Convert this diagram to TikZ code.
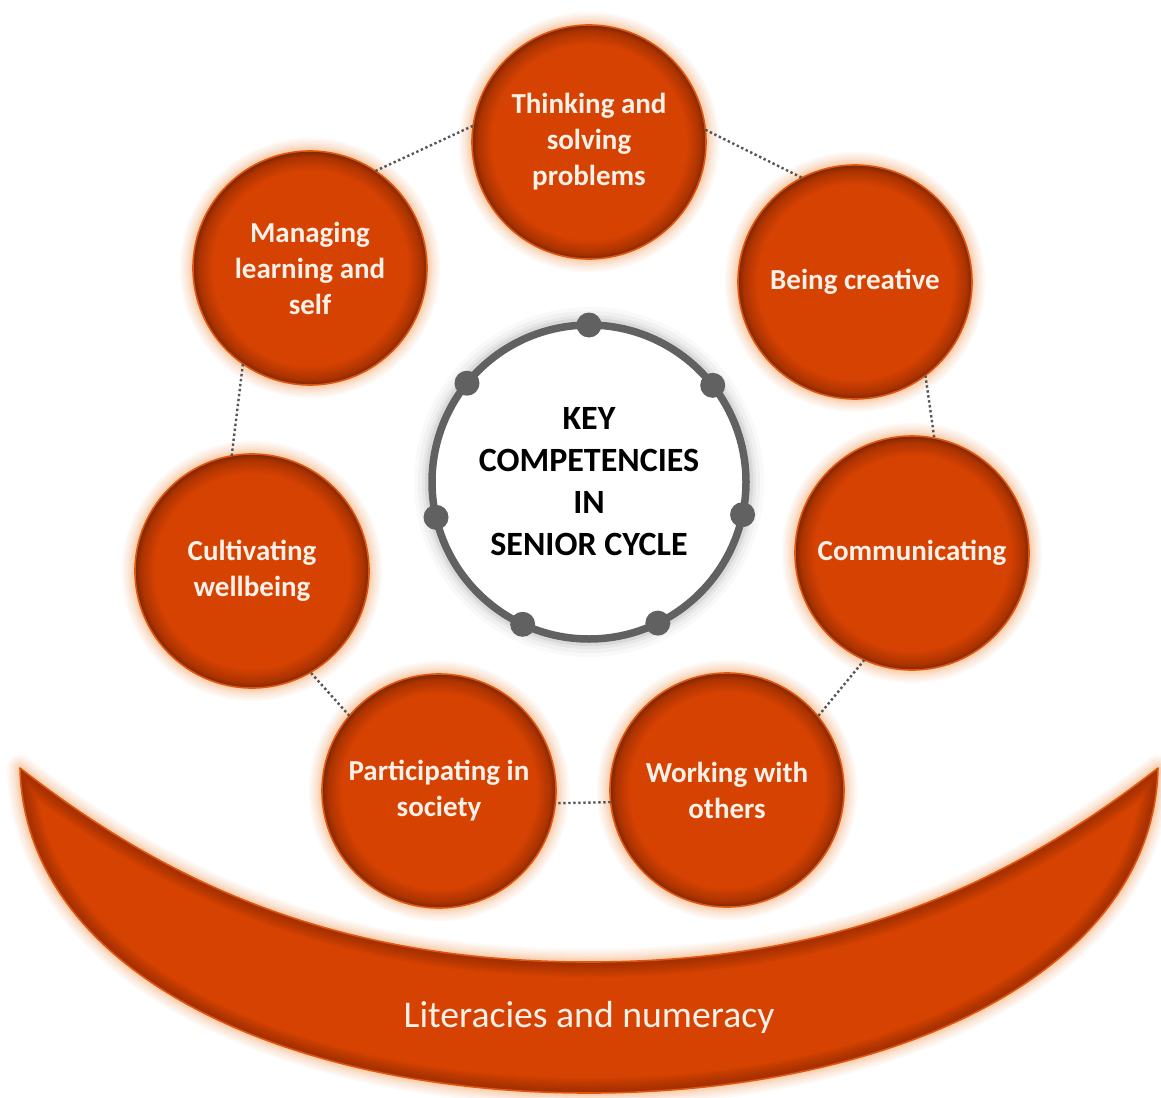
\documentclass[tikz,border=0pt]{standalone}
\usepackage{fontspec}
\setmainfont{Carlito}
\definecolor{corg}{HTML}{D64202}
\definecolor{corgb}{HTML}{AC3300}
\definecolor{cdark}{HTML}{6E2000}
\definecolor{cdark2}{HTML}{7E2600}
\definecolor{cedge}{HTML}{E0560E}
\definecolor{cglow}{HTML}{F7984F}
\definecolor{cring}{HTML}{616161}
\definecolor{cdot}{HTML}{555555}
\definecolor{ctext}{HTML}{FCF1E8}
\pgfdeclareradialshading{innershade}{\pgfpoint{0bp}{0bp}}{color(0bp)=(corg); color(20.8bp)=(corg); color(23.8bp)=(corgb); color(25bp)=(cdark2); color(50bp)=(cdark2)}
\tikzset{
  glowing/.style={
    preaction={draw=cglow,line width=26pt,draw opacity=.06},
    preaction={draw=cglow,line width=22pt,draw opacity=.06},
    preaction={draw=cglow,line width=18pt,draw opacity=.07},
    preaction={draw=cglow,line width=14pt,draw opacity=.08},
    preaction={draw=cglow,line width=10pt,draw opacity=.10},
    preaction={draw=cglow,line width=6pt,draw opacity=.14}},
  comp/.style={circle, minimum size=234pt, inner sep=0pt, outer sep=0pt,
    shading=innershade, draw=cedge, line width=1.6pt, glowing, text=ctext,
    font=\bfseries\fontsize{29}{36}\selectfont, align=center},
  core/.style={circle, minimum size=314pt, inner sep=0pt, outer sep=0pt,
    fill=white, draw=cring, line width=7.5pt, align=center,
    font=\bfseries\fontsize{34}{42}\selectfont, text=black,
    preaction={draw=black,line width=36pt,draw opacity=.025},
    preaction={draw=black,line width=28pt,draw opacity=.03},
    preaction={draw=black,line width=20pt,draw opacity=.04},
    preaction={draw=black,line width=14pt,draw opacity=.06}},
  ringdot/.style={fill=cring},
  link/.style={draw=cdot, line width=2.4pt, dash pattern=on 2.4pt off 2.6pt},
}
\begin{document}
\begin{tikzpicture}[x=1pt,y=-1pt]
\useasboundingbox (0,0) rectangle (1161,1097);
\fill[white] (0,0) rectangle (1161,1097);
% crescent
\def\cres{(20,768) .. controls (170,885) and (339,962) .. (589,962) .. controls (839,962) and (1008,885) .. (1158,768) .. controls (1153,975) and (888,1093) .. (589,1093) .. controls (290,1093) and (25,975) .. (20,768) -- cycle}
\foreach \w/\o in {26/.06,22/.06,18/.07,14/.08,10/.10,6/.14}
  \draw[cglow, line width=\w pt, draw opacity=\o, line join=round] \cres;
\fill[corg] \cres;
\begin{scope}
  \clip \cres;
  \foreach \w in {3,6,...,30}
    \draw[cdark, line width=\w pt, draw opacity=.06, line join=round] \cres;
\end{scope}
\draw[cedge, line width=1.6pt, line join=round] \cres;
\node[text=ctext, font=\fontsize{37.7}{44}\selectfont, anchor=base] (lit) at (589,1027) {Literacies and numeracy};

% competence circles
\node[comp] (thk) at (589,142) {Thinking and\\solving\\problems};
\node[comp] (cre) at (855,282) {Being creative};
\node[comp] (com) at (912,553) {Communicating};
\node[comp] (wrk) at (727,790) {Working with\\others};
\node[comp] (par) at (439,791) {Participating in\\society};
\node[comp] (cul) at (252,571) {Cultivating\\wellbeing};
\node[comp] (mng) at (310,268) {Managing\\learning and\\self};

% dotted links
\draw[link] (mng.56) -- (thk.172);
\draw[link] (thk.6) -- (cre.117);
\draw[link] (cre.-53) -- (com.79);
\draw[link] (com.-114) -- (wrk.39);
\draw[link] (wrk.186) -- (par.-6);
\draw[link] (par.140) -- (cul.-60);
\draw[link] (cul.100) -- (mng.-125);

% centre
\node[core] (core) at (589,482) {KEY\\COMPETENCIES\\IN\\SENIOR CYCLE};
\foreach \a in {90,38.57,-12.86,-64.29,-115.71,-167.14,141.43}
  \fill[ringdot] (core.\a) circle (12.5pt);
\end{tikzpicture}
\end{document}
